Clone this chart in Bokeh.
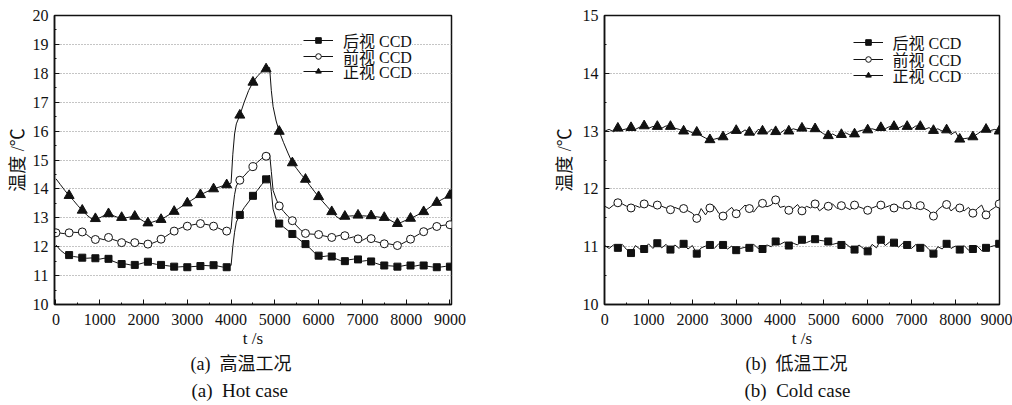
from bokeh.plotting import figure
from bokeh.models import FixedTicker, Legend, LegendItem, Range1d, Title
from bokeh.layouts import row
from bokeh.embed import file_html
from bokeh.resources import INLINE

# ---------------- data ----------------
SERIES_NAMES = ["后视 CCD", "前视 CCD", "正视 CCD"]

X_TICKS = [0, 1000, 2000, 3000, 4000, 5000, 6000, 7000, 8000, 9000]
X_MINOR = [500, 1500, 2500, 3500, 4500, 5500, 6500, 7500, 8500]
HOT_Y_TICKS = [10, 11, 12, 13, 14, 15, 16, 17, 18, 19, 20]
HOT_Y_MINOR = [10.5, 11.5, 12.5, 13.5, 14.5, 15.5, 16.5, 17.5, 18.5, 19.5]
COLD_Y_TICKS = [10, 11, 12, 13, 14, 15]
COLD_Y_MINOR = [10.5, 11.5, 12.5, 13.5, 14.5]

MARKER_T = [300, 600, 900, 1200, 1500, 1800, 2100, 2400, 2700, 3000,
            3300, 3600, 3900, 4200, 4500, 4800, 5100, 5400, 5700, 6000,
            6300, 6600, 6900, 7200, 7500, 7800, 8100, 8400, 8700, 9000]
HOT_CIRCLE_MARKER_T = [0] + MARKER_T

# ---- hot case (a) ----
HOT_LINE_T = ([0, 100, 200, 300, 400, 500, 600, 700, 800, 900,
               1000, 1100, 1200, 1300, 1400, 1500, 1600, 1700, 1800, 1900,
               2000, 2100, 2200, 2300, 2400, 2500, 2600, 2700, 2800, 2900,
               3000, 3100, 3200, 3300, 3400, 3500, 3600, 3700, 3800, 3900, 4000,
               4040, 4080, 4120,
               4200, 4300, 4400, 4500, 4600, 4700, 4800,
               4880, 4920, 4960, 5030,
               5100, 5200, 5300, 5400, 5500, 5600, 5700, 5800, 5900, 6000,
               6100, 6200, 6300, 6400, 6500, 6600, 6700, 6800, 6900, 7000,
               7100, 7200, 7300, 7400, 7500, 7600, 7700, 7800, 7900, 8000,
               8100, 8200, 8300, 8400, 8500, 8600, 8700, 8800, 8900, 9000])

HOT_BACK_LINE = [12.06, 11.88, 11.76, 11.71, 11.66, 11.64, 11.62, 11.60, 11.61, 11.60,
                 11.57, 11.60, 11.58, 11.50, 11.44, 11.40, 11.40, 11.37, 11.37, 11.40,
                 11.44, 11.48, 11.42, 11.39, 11.37, 11.35, 11.33, 11.31, 11.30, 11.31,
                 11.29, 11.31, 11.32, 11.33, 11.35, 11.34, 11.36, 11.33, 11.30, 11.29, 11.35,
                 12.00, 12.50, 12.85,
                 13.10, 13.35, 13.55, 13.76, 13.95, 14.15, 14.33,
                 14.48, 13.90, 13.30, 12.95,
                 12.80, 12.68, 12.56, 12.44, 12.32, 12.20, 12.09, 11.95, 11.80, 11.69,
                 11.66, 11.68, 11.66, 11.58, 11.52, 11.50, 11.55, 11.57, 11.56, 11.50,
                 11.52, 11.49, 11.43, 11.38, 11.35, 11.34, 11.33, 11.31, 11.33, 11.36,
                 11.35, 11.33, 11.36, 11.35, 11.32, 11.30, 11.29, 11.30, 11.32, 11.31]
HOT_FRONT_LINE = [12.48, 12.47, 12.45, 12.48, 12.50, 12.49, 12.51, 12.42, 12.30, 12.25,
                  12.28, 12.24, 12.32, 12.25, 12.20, 12.14, 12.18, 12.12, 12.14, 12.12,
                  12.10, 12.09, 12.12, 12.18, 12.26, 12.35, 12.45, 12.54, 12.62, 12.68,
                  12.71, 12.75, 12.78, 12.80, 12.78, 12.75, 12.71, 12.65, 12.58, 12.54, 12.60,
                  13.30, 13.80, 14.10,
                  14.30, 14.45, 14.62, 14.77, 14.92, 15.05, 15.13,
                  15.22, 14.60, 13.95, 13.65,
                  13.41, 13.22, 13.05, 12.90, 12.72, 12.56, 12.46, 12.44, 12.43, 12.42,
                  12.38, 12.35, 12.32, 12.36, 12.40, 12.38, 12.30, 12.34, 12.27, 12.22,
                  12.30, 12.28, 12.18, 12.14, 12.10, 12.10, 12.07, 12.04, 12.10, 12.18,
                  12.26, 12.35, 12.44, 12.52, 12.60, 12.66, 12.70, 12.73, 12.75, 12.76]
HOT_TOP_LINE = [14.35, 14.15, 13.95, 13.77, 13.60, 13.42, 13.26, 13.10, 12.98, 12.97,
                13.00, 13.08, 13.14, 13.08, 13.02, 13.01, 13.00, 13.03, 13.05, 12.98,
                12.88, 12.82, 12.85, 12.90, 12.94, 13.03, 13.12, 13.22, 13.32, 13.42,
                13.51, 13.61, 13.71, 13.80, 13.87, 13.94, 14.00, 14.05, 14.10, 14.14, 14.20,
                15.20, 15.90, 16.25,
                16.55, 17.00, 17.40, 17.69, 17.90, 18.05, 18.15,
                18.20, 17.40, 16.85, 16.35,
                15.99, 15.60, 15.24, 14.90, 14.70, 14.50, 14.33, 14.12, 13.92, 13.73,
                13.55, 13.38, 13.21, 13.05, 12.95, 13.05, 13.06, 13.07, 13.09, 13.07,
                13.06, 13.07, 13.04, 13.02, 13.01, 12.95, 12.86, 12.80, 12.85, 12.92,
                12.98, 13.05, 13.13, 13.21, 13.32, 13.43, 13.53, 13.62, 13.70, 13.78]

HOT_BACK_MK = [11.71, 11.62, 11.60, 11.58, 11.40, 11.37, 11.48, 11.37, 11.31, 11.29,
               11.33, 11.36, 11.29, 13.10, 13.76, 14.33, 12.80, 12.44, 12.09, 11.69,
               11.66, 11.50, 11.56, 11.49, 11.35, 11.31, 11.35, 11.35, 11.29, 11.31]
HOT_FRONT_MK = [12.48,
                12.48, 12.51, 12.25, 12.32, 12.14, 12.14, 12.09, 12.26, 12.54, 12.71,
                12.80, 12.71, 12.54, 14.30, 14.77, 15.13, 13.41, 12.90, 12.46, 12.42,
                12.32, 12.38, 12.27, 12.28, 12.10, 12.04, 12.26, 12.52, 12.70, 12.76]
HOT_TOP_MK = [13.77, 13.26, 12.97, 13.14, 13.01, 13.05, 12.82, 12.94, 13.22, 13.51,
              13.80, 14.00, 14.14, 16.55, 17.69, 18.15, 15.99, 14.90, 14.33, 13.73,
              13.21, 13.05, 13.09, 13.07, 13.01, 12.80, 12.98, 13.21, 13.53, 13.78]

# ---- cold case (b) ----
COLD_LINE_T = list(range(0, 9001, 100))
COLD_BACK_LINE = [11.02, 10.97, 11.03, 10.98, 11.04, 10.95, 10.89, 11.02, 10.96, 10.96,
                  11.05, 10.97, 11.06, 10.98, 11.04, 10.95, 11.03, 10.97, 11.05, 10.96,
                  11.02, 10.88, 10.98, 11.01, 11.03, 10.97, 11.05, 11.03, 10.96, 11.01,
                  10.94, 10.97, 10.99, 10.98, 11.04, 10.97, 10.96, 11.03, 11.00, 11.09,
                  11.04, 11.08, 11.02, 11.06, 11.03, 11.12, 11.07, 11.10, 11.13, 11.11,
                  11.10, 11.09, 11.04, 11.06, 11.03, 11.05, 10.99, 10.95, 11.03, 10.97,
                  10.92, 11.04, 10.98, 11.12, 11.02, 11.08, 11.07, 10.99, 11.06, 11.03,
                  10.97, 11.04, 10.98, 11.03, 10.95, 10.88, 11.00, 10.96, 11.05, 10.97,
                  11.01, 10.95, 11.02, 10.94, 10.96, 11.01, 10.93, 10.98, 11.00, 11.02,
                  11.05]
COLD_FRONT_LINE = [11.70, 11.66, 11.72, 11.76, 11.74, 11.70, 11.67, 11.71, 11.68, 11.74,
                   11.72, 11.69, 11.72, 11.70, 11.67, 11.64, 11.68, 11.65, 11.66, 11.62,
                   11.58, 11.49, 11.66, 11.55, 11.67, 11.70, 11.58, 11.53, 11.62, 11.68,
                   11.57, 11.64, 11.72, 11.66, 11.60, 11.70, 11.75, 11.69, 11.72, 11.81,
                   11.68, 11.70, 11.63, 11.66, 11.73, 11.62, 11.70, 11.67, 11.74, 11.62,
                   11.68, 11.70, 11.74, 11.66, 11.71, 11.68, 11.64, 11.72, 11.69, 11.66,
                   11.63, 11.67, 11.70, 11.72, 11.68, 11.71, 11.67, 11.69, 11.66, 11.72,
                   11.68, 11.65, 11.71, 11.66, 11.62, 11.53, 11.64, 11.70, 11.73, 11.62,
                   11.68, 11.67, 11.62, 11.68, 11.58, 11.66, 11.72, 11.55, 11.63, 11.68,
                   11.74]
COLD_TOP_LINE = [13.00, 13.03, 12.99, 13.05, 13.02, 13.04, 13.06, 13.03, 13.07, 13.09,
                 13.05, 13.08, 13.08, 13.05, 13.09, 13.08, 13.05, 13.03, 13.00, 13.01,
                 12.97, 12.98, 12.92, 12.88, 12.85, 12.86, 12.88, 12.90, 12.95, 12.99,
                 13.01, 12.97, 13.02, 12.98, 12.93, 13.03, 13.00, 12.96, 13.03, 12.99,
                 12.96, 13.02, 13.00, 13.04, 13.02, 13.05, 13.05, 13.04, 13.04, 13.00,
                 12.95, 12.92, 12.95, 12.91, 12.94, 12.97, 12.93, 12.95, 13.00, 13.02,
                 13.02, 13.04, 13.02, 13.06, 13.04, 13.08, 13.08, 13.05, 13.09, 13.08,
                 13.04, 13.09, 13.08, 13.03, 13.06, 13.01, 13.04, 13.00, 13.02, 12.94,
                 12.99, 12.86, 12.87, 12.88, 12.90, 12.95, 13.00, 13.03, 13.01, 13.03,
                 13.00]

COLD_BACK_MK = [10.98, 10.89, 10.96, 11.06, 10.95, 11.05, 10.88, 11.03, 11.03, 10.94,
                10.98, 10.96, 11.09, 11.02, 11.12, 11.13, 11.09, 11.03, 10.95, 10.92,
                11.12, 11.07, 11.03, 10.98, 10.88, 11.05, 10.95, 10.96, 10.98, 11.05]
COLD_FRONT_MK = [11.76, 11.67, 11.74, 11.72, 11.64, 11.66, 11.49, 11.67, 11.53, 11.57,
                 11.66, 11.75, 11.81, 11.63, 11.62, 11.74, 11.70, 11.71, 11.72, 11.63,
                 11.72, 11.67, 11.72, 11.71, 11.53, 11.73, 11.67, 11.58, 11.55, 11.74]
COLD_TOP_MK = [13.05, 13.06, 13.09, 13.08, 13.08, 13.00, 12.98, 12.85, 12.90, 13.01,
               12.98, 13.00, 12.99, 13.00, 13.05, 13.04, 12.92, 12.94, 12.95, 13.02,
               13.06, 13.08, 13.08, 13.08, 13.01, 13.02, 12.86, 12.90, 13.03, 13.00]

# ---------------- styling ----------------
SERIF = "'Liberation Serif', 'Noto Sans CJK SC'"
INK = "#111111"


def style_fig(p, yticks, yminor, ylabel_standoff):
    p.outline_line_color = INK
    p.outline_line_width = 1.5
    p.xgrid.visible = False
    p.ygrid.grid_line_color = "#8a8a8a"
    p.ygrid.grid_line_dash = "1 2"
    p.ygrid.grid_line_width = 1
    p.xaxis.ticker = FixedTicker(ticks=X_TICKS, minor_ticks=X_MINOR)
    p.yaxis.ticker = FixedTicker(ticks=yticks, minor_ticks=yminor)
    for ax in (p.xaxis[0], p.yaxis[0]):
        ax.axis_line_color = INK
        ax.axis_line_width = 1.5
        ax.major_tick_in = 5
        ax.major_tick_out = 0
        ax.minor_tick_in = 2
        ax.minor_tick_out = 0
        ax.major_tick_line_color = INK
        ax.minor_tick_line_color = INK
        ax.major_label_text_font = SERIF
        ax.major_label_text_font_size = "16px"
        ax.major_label_text_color = INK
    p.yaxis.major_label_standoff = 6
    p.xaxis.major_label_standoff = 9
    p.yaxis.axis_label = "温度 /℃"
    p.yaxis.axis_label_text_font = SERIF
    p.yaxis.axis_label_text_font_size = "18px"
    p.yaxis.axis_label_text_font_style = "normal"
    p.yaxis.axis_label_text_color = INK
    p.yaxis.axis_label_standoff = ylabel_standoff
    p.xaxis.axis_label = "t /s"
    p.xaxis.axis_label_text_font = SERIF
    p.xaxis.axis_label_text_font_size = "17px"
    p.xaxis.axis_label_text_font_style = "normal"
    p.xaxis.axis_label_text_color = INK
    p.xaxis.axis_label_standoff = 1


def add_series(p, lt, ly, mt, my, marker, size, fill):
    lr = p.line(lt, ly, line_color=INK, line_width=1)
    mr = p.scatter(mt, my, marker=marker, size=size, fill_color=fill,
                   line_color=INK, line_width=1)
    return lr, mr


def add_legends(p, items, vx, vys, white_rows, order):
    # one legend box per row so the row pitch can follow the reference
    for i in order:
        name, rs = items[i]
        lg = Legend(items=[LegendItem(label=name, renderers=list(rs))],
                    location=(vx, vys[i]), orientation="vertical",
                    label_text_font=SERIF, label_text_font_size="16px",
                    label_text_color=INK,
                    glyph_width=30, glyph_height=14, label_height=14,
                    label_standoff=10, padding=0, spacing=0, margin=0,
                    border_line_alpha=0, background_fill_color="white",
                    background_fill_alpha=1.0 if i in white_rows else 0.0)
        p.add_layout(lg)


def add_captions(p, caps):
    for txt, size, left, so in caps:
        p.add_layout(Title(text=txt, align="left", offset=left, standoff=so,
                           text_font=SERIF, text_font_size=size,
                           text_font_style="normal", text_color=INK), "below")


# ---------------- (a) hot case ----------------
p1 = figure(width=498, height=405, x_range=Range1d(-34, 9036), y_range=Range1d(10, 20),
            output_backend="svg", toolbar_location=None,
            min_border_left=54, min_border_right=47, min_border_top=14, min_border_bottom=101)
style_fig(p1, HOT_Y_TICKS, HOT_Y_MINOR, 2)
b1 = add_series(p1, HOT_LINE_T, HOT_BACK_LINE, MARKER_T, HOT_BACK_MK, "square", 7, INK)
f1 = add_series(p1, HOT_LINE_T, HOT_FRONT_LINE, HOT_CIRCLE_MARKER_T, HOT_FRONT_MK, "circle", 8, "white")
t1 = add_series(p1, HOT_LINE_T, HOT_TOP_LINE, MARKER_T, HOT_TOP_MK, "triangle", 10, INK)
add_legends(p1, list(zip(SERIES_NAMES, [b1, f1, t1])), 249, [252, 236.5, 221],
            white_rows=(0, 2), order=(0, 2, 1))
add_captions(p1, [("(a)\u00a0 高温工况", "18px", 136, 3),
                  ("(a)\u00a0 Hot case", "19px", 137, 4)])

# ---------------- (b) cold case ----------------
p2 = figure(width=514, height=405, x_range=Range1d(-5, 9007), y_range=Range1d(10, 15),
            output_backend="svg", toolbar_location=None,
            min_border_left=106, min_border_right=13, min_border_top=15, min_border_bottom=100)
style_fig(p2, COLD_Y_TICKS, COLD_Y_MINOR, 5)
b2 = add_series(p2, COLD_LINE_T, COLD_BACK_LINE, MARKER_T, COLD_BACK_MK, "square", 7, INK)
f2 = add_series(p2, COLD_LINE_T, COLD_FRONT_LINE, MARKER_T, COLD_FRONT_MK, "circle", 8, "white")
t2 = add_series(p2, COLD_LINE_T, COLD_TOP_LINE, MARKER_T, COLD_TOP_MK, "triangle", 10, INK)
add_legends(p2, list(zip(SERIES_NAMES, [b2, f2, t2])), 248.5, [249.7, 232.7, 216.7],
            white_rows=(2,), order=(2, 0, 1))
add_captions(p2, [("(b)\u00a0 低温工况", "18px", 141, 3),
                  ("(b)\u00a0 Cold case", "19px", 140, 4)])

layout = row(p1, p2, spacing=0)
open("out.html", "w").write(file_html(layout, INLINE))
